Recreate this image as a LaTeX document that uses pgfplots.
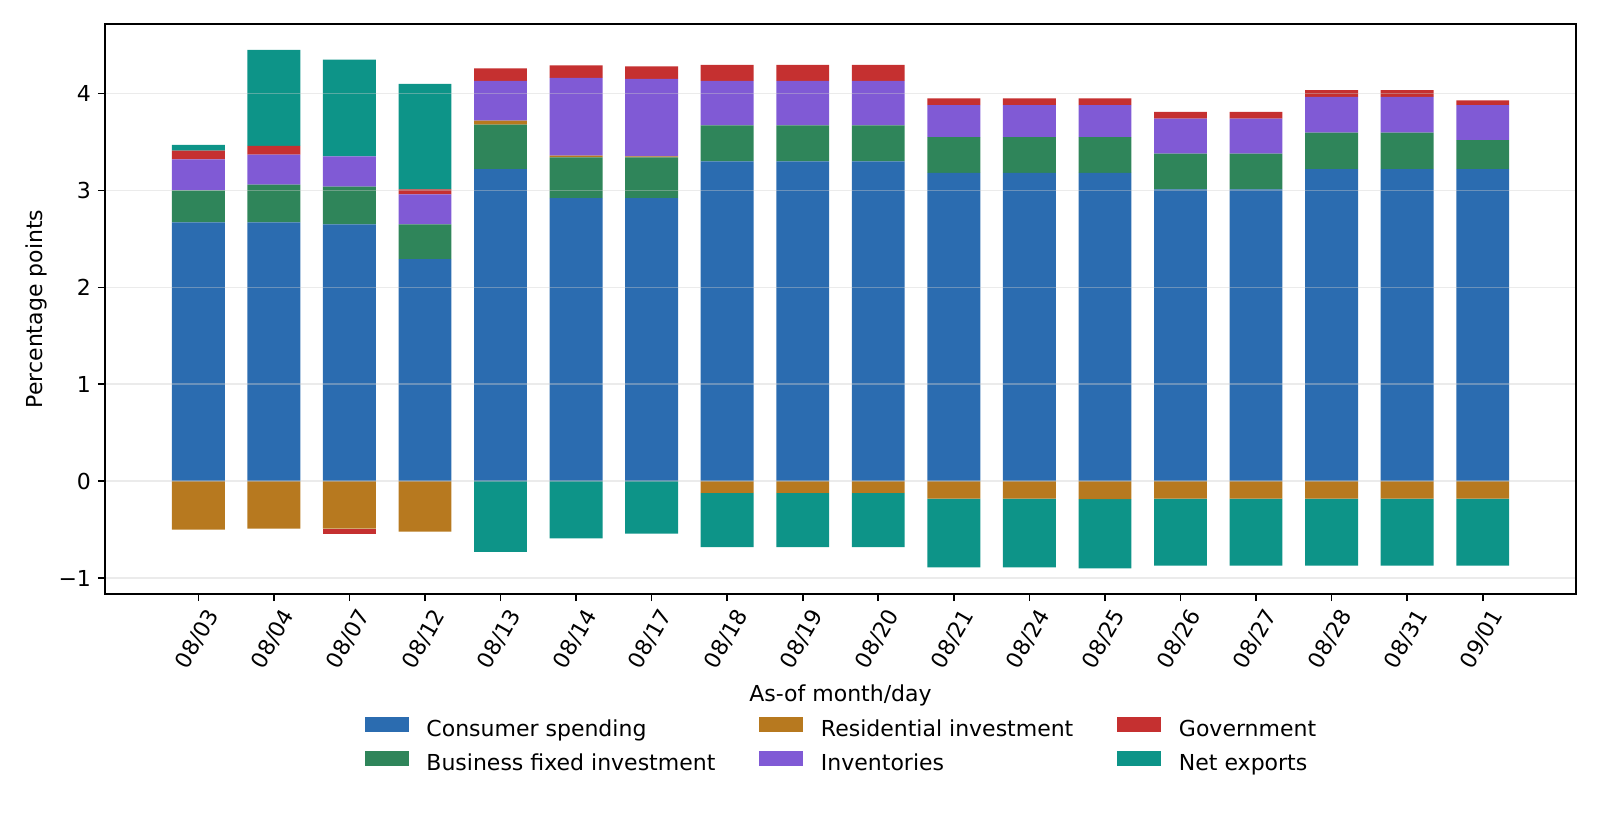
\documentclass[border=0pt]{standalone}
\usepackage{pgfplots}
\pgfplotsset{compat=1.18}
\usepackage{pgfplotstable}
\usepackage{fontspec}
\setmainfont{DejaVu Sans}

\definecolor{ccons}{HTML}{2B6CB0}
\definecolor{cbfi}{HTML}{2F855A}
\definecolor{cres}{HTML}{B7791F}
\definecolor{cinv}{HTML}{805AD5}
\definecolor{cgov}{HTML}{C53030}
\definecolor{cnx}{HTML}{0D9488}

\pgfplotstableread{
idx cons bfi res inv gov nx
0 2.67 0.33 -0.50 0.32 0.09 0.06
1 2.67 0.39 -0.49 0.31 0.09 0.99
2 2.65 0.39 -0.49 0.31 -0.05 1.00
3 2.29 0.36 -0.52 0.31 0.05 1.09
4 3.22 0.46 0.04 0.41 0.13 -0.73
5 2.92 0.42 0.02 0.80 0.13 -0.59
6 2.92 0.42 0.01 0.80 0.13 -0.54
7 3.30 0.37 -0.12 0.46 0.165 -0.56
8 3.30 0.37 -0.12 0.46 0.165 -0.56
9 3.30 0.37 -0.12 0.46 0.165 -0.56
10 3.18 0.37 -0.18 0.33 0.07 -0.71
11 3.18 0.37 -0.18 0.33 0.07 -0.71
12 3.18 0.37 -0.185 0.33 0.07 -0.715
13 3.01 0.37 -0.18 0.36 0.07 -0.69
14 3.01 0.37 -0.18 0.36 0.07 -0.69
15 3.22 0.375 -0.18 0.37 0.07 -0.69
16 3.22 0.375 -0.18 0.37 0.07 -0.69
17 3.22 0.30 -0.18 0.36 0.05 -0.69
}\gdp

\pgfplotsset{
  frame/.style={
    scale only axis, width=735.5pt, height=285pt,
    xmin=-1.235, xmax=18.235, ymin=-1.164, ymax=4.717,
    ybar stacked, bar width=0.7,
  },
}

\begin{document}
\begin{tikzpicture}[font=\fontsize{11}{13.2}\selectfont]
% negative parts
\begin{axis}[frame, hide axis]
\addplot[fill=cres, draw=none] table[x=idx, y expr={min(\thisrow{res},0)}]{\gdp};
\addplot[fill=cgov, draw=none] table[x=idx, y expr={min(\thisrow{gov},0)}]{\gdp};
\addplot[fill=cnx, draw=none] table[x=idx, y expr={min(\thisrow{nx},0)}]{\gdp};
\end{axis}
% positive parts and decorations
\begin{axis}[frame,
  axis on top,
  axis line style={line width=0.8pt, black},
  tick style={line width=0.8pt, black},
  major tick length=3.5pt,
  tick align=outside,
  xtick pos=bottom, ytick pos=left,
  xtick={0,...,17},
  xticklabels={08/03,08/04,08/07,08/12,08/13,08/14,08/17,08/18,08/19,08/20,08/21,08/24,08/25,08/26,08/27,08/28,08/31,09/01},
  ytick={-1,0,1,2,3,4},
  yticklabels={−1,0,1,2,3,4},
  tick label style={font=\fontsize{11}{13.2}\selectfont},
  xticklabel style={yshift=-19pt, xshift=-0.5pt, rotate=60, anchor=center},
  ymajorgrids,
  major grid style={line width=0.8pt, black!20, opacity=0.4},
  xlabel={As-of month/day},
  ylabel={Percentage points},
  every axis x label/.style={at={([yshift=-50.5pt]axis description cs:0.5,0)}, anchor=center},
  every axis y label/.style={at={([xshift=-34.5pt]axis description cs:0,0.5)}, rotate=90, anchor=center},
  legend columns=3,
  legend cell align=left,
  legend image code/.code={\fill[#1] (0pt,-0.6pt) rectangle (22pt,7.1pt);},
  legend style={at={(0.5,-0.2155)}, anchor=north, draw=none, fill=none,
    inner sep=0pt, outer sep=0pt,
    nodes={inner sep=0pt, text height=8pt, text depth=2.5pt},
    row sep=4.5pt,
    /tikz/every odd column/.append style={column sep=8.8pt},
    /tikz/every even column/.append style={column sep=22pt}},
]
\addplot[fill=ccons, draw=none, forget plot] table[x=idx, y expr={max(\thisrow{cons},0)}]{\gdp};
\addplot[fill=cbfi, draw=none, forget plot] table[x=idx, y expr={max(\thisrow{bfi},0)}]{\gdp};
\addplot[fill=cres, draw=none, forget plot] table[x=idx, y expr={max(\thisrow{res},0)}]{\gdp};
\addplot[fill=cinv, draw=none, forget plot] table[x=idx, y expr={max(\thisrow{inv},0)}]{\gdp};
\addplot[fill=cgov, draw=none, forget plot] table[x=idx, y expr={max(\thisrow{gov},0)}]{\gdp};
\addplot[fill=cnx, draw=none, forget plot] table[x=idx, y expr={max(\thisrow{nx},0)}]{\gdp};
\addlegendimage{fill=ccons, draw=none}\addlegendentry{Consumer spending}
\addlegendimage{fill=cres, draw=none}\addlegendentry{Residential investment}
\addlegendimage{fill=cgov, draw=none}\addlegendentry{Government}
\addlegendimage{fill=cbfi, draw=none}\addlegendentry{Business fixed investment}
\addlegendimage{fill=cinv, draw=none}\addlegendentry{Inventories}
\addlegendimage{fill=cnx, draw=none}\addlegendentry{Net exports}
\end{axis}
\pgfresetboundingbox
\path[use as bounding box] ([xshift=-52.5pt,yshift=-119pt]current axis.south west) rectangle ([xshift=12pt,yshift=12pt]current axis.north east);
\end{tikzpicture}
\end{document}
